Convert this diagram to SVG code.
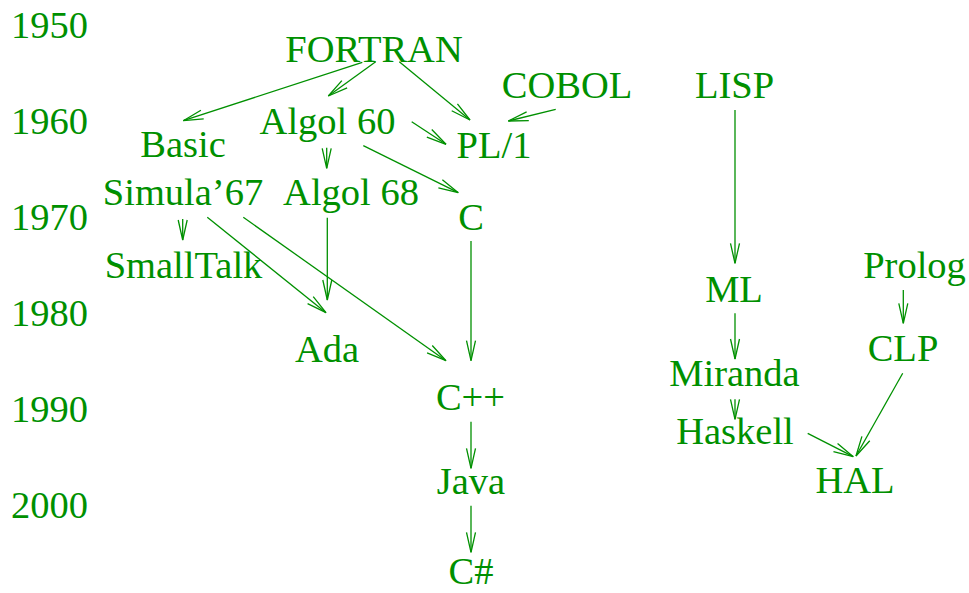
<svg xmlns="http://www.w3.org/2000/svg" width="969" height="593" viewBox="0 0 969 593">
<style>
text{font-family:"Liberation Serif","Times New Roman",serif;font-size:38.5px;fill:#009000}
.n text{text-anchor:middle}
.c line{stroke:#009000;stroke-width:1.3;fill:none;marker-end:url(#ah)}
</style>
<defs>
<marker id="ah" markerUnits="userSpaceOnUse" markerWidth="24" markerHeight="12" viewBox="-22 -6 24 12" refX="0" refY="0" orient="auto" overflow="visible">
<path d="M-20,-4.5 L0,0 L-20,4.5" fill="none" stroke="#009000" stroke-width="1.3"/>
</marker>
</defs>
<rect width="969" height="593" fill="#ffffff"/>
<g id="years">
<text x="11" y="37.5">1950</text>
<text x="11" y="134">1960</text>
<text x="11" y="230">1970</text>
<text x="11" y="326">1980</text>
<text x="11" y="422">1990</text>
<text x="11" y="518">2000</text>
</g>
<g class="n">
<g id="fortran"><text x="374" y="62">FORTRAN</text></g>
<g id="cobol"><text x="567" y="98">COBOL</text></g>
<g id="lisp"><text x="734.5" y="98">LISP</text></g>
<g id="basic"><text x="183" y="157">Basic</text></g>
<g id="algol60"><text x="327.5" y="133.5">Algol 60</text></g>
<g id="pl1"><text x="494" y="157.5">PL/1</text></g>
<g id="simula"><text x="183" y="205">Simula’67</text></g>
<g id="algol68"><text x="351" y="205">Algol 68</text></g>
<g id="c"><text x="471" y="230">C</text></g>
<g id="smalltalk"><text x="183.5" y="277.5">SmallTalk</text></g>
<g id="ada"><text x="327" y="361.5">Ada</text></g>
<g id="cpp"><text x="470.5" y="410">C++</text></g>
<g id="java"><text x="471" y="493.5">Java</text></g>
<g id="csharp"><text x="471" y="584">C#</text></g>
<g id="ml"><text x="734" y="301.5">ML</text></g>
<g id="miranda"><text x="734.5" y="385.5">Miranda</text></g>
<g id="haskell"><text x="735" y="444">Haskell</text></g>
<g id="prolog"><text x="914.5" y="277.5">Prolog</text></g>
<g id="clp"><text x="903" y="360.5">CLP</text></g>
<g id="hal"><text x="855" y="493">HAL</text></g>
</g>
<g id="connectors" class="c">
<line x1="362.3" y1="62.3" x2="183.3" y2="120.7"/>
<line x1="375.7" y1="61.7" x2="328.3" y2="96"/>
<line x1="399.3" y1="61.7" x2="470" y2="120"/>
<line x1="411.7" y1="121.7" x2="446" y2="144.3"/>
<line x1="326.7" y1="147.7" x2="326.7" y2="168.3"/>
<line x1="363.3" y1="145.7" x2="458.3" y2="192.7"/>
<line x1="555.7" y1="109.3" x2="508.3" y2="121"/>
<line x1="735" y1="110" x2="735" y2="263.3"/>
<line x1="182.7" y1="219" x2="182.7" y2="240"/>
<line x1="207.3" y1="217.3" x2="326" y2="312.7"/>
<line x1="243.3" y1="217.3" x2="446" y2="360.7"/>
<line x1="327.3" y1="217.7" x2="327.3" y2="300"/>
<line x1="471" y1="241" x2="471" y2="360.7"/>
<line x1="471" y1="421.7" x2="471" y2="468.3"/>
<line x1="471" y1="505.7" x2="471" y2="552.3"/>
<line x1="735" y1="313.3" x2="735" y2="359"/>
<line x1="735" y1="399.3" x2="735" y2="419.3"/>
<line x1="903.3" y1="290" x2="903.3" y2="323.3"/>
<line x1="902.7" y1="373.3" x2="856" y2="456"/>
<line x1="807.7" y1="433.3" x2="853.3" y2="456.7"/>
</g>
</svg>
